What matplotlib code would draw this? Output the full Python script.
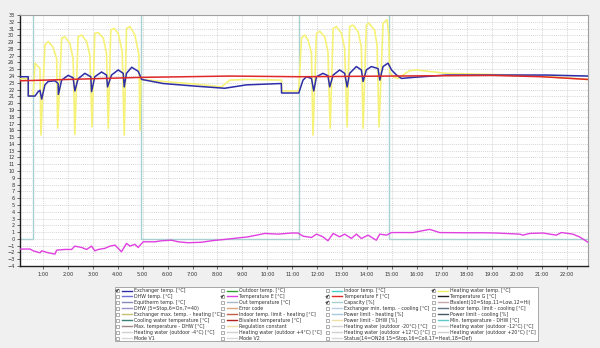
import matplotlib.pyplot as plt
import matplotlib.ticker as mticker
from matplotlib.lines import Line2D
from matplotlib.patches import Rectangle

# time axis in hours since midnight
exch_t = [0.08, 0.41, 0.41, 0.68, 0.81, 0.88, 0.95, 1.08, 1.21, 1.48, 1.61, 1.62,
          1.75, 2.01, 2.21, 2.28, 2.41, 2.68, 2.92, 2.95, 3.08, 3.35, 3.55, 3.59,
          3.75, 4.02, 4.22, 4.26, 4.35, 4.56, 4.82, 4.96, 5.82, 7.16, 8.29, 9.16,
          10.56, 10.57, 11.26, 11.43, 11.57, 11.77, 11.86, 11.97, 12.23, 12.43,
          12.50, 12.64, 12.90, 13.10, 13.20, 13.30, 13.57, 13.77, 13.84, 13.97,
          14.17, 14.44, 14.51, 14.64, 14.84, 14.98, 15.18, 15.38, 15.84, 17.18,
          18.51, 21.19, 22.86]
exch_v = [23.9, 23.9, 21.05, 21.05, 21.7, 21.9, 20.6, 22.7, 23.2, 23.3, 22.9, 21.3,
          23.4, 24.1, 23.75, 21.8, 23.6, 24.4, 23.9, 21.7, 23.9, 24.6, 24.15, 22.4,
          24.15, 24.9, 24.4, 22.4, 24.4, 25.3, 24.7, 23.5, 22.9, 22.5, 22.2, 22.7,
          22.9, 21.5, 21.5, 23.4, 23.9, 23.65, 21.8, 23.9, 24.4, 24.05,
          22.4, 24.15, 24.9, 24.4, 22.4, 24.4, 25.4, 24.9, 23.2, 24.9,
          25.4, 25.1, 23.4, 25.4, 25.9, 24.9, 24.15, 23.65, 23.8, 24.15,
          24.15, 24.15, 24.0]

heat_t = [0.08, 0.41, 0.42, 0.61, 0.68, 0.75, 0.84, 0.88, 0.92, 1.08, 1.21, 1.40,
          1.55, 1.59, 1.75, 1.88, 2.08, 2.21, 2.28, 2.41, 2.55, 2.75, 2.88, 2.97,
          3.08, 3.22, 3.42, 3.55, 3.62, 3.72, 3.85, 4.02, 4.18, 4.26, 4.35, 4.49,
          4.69, 4.85, 4.89, 4.93, 4.96, 5.82, 7.16, 8.16, 8.49, 9.16, 10.57, 10.58,
          11.26, 11.37, 11.50, 11.63, 11.77, 11.83, 11.97, 12.10, 12.30, 12.43,
          12.52, 12.64, 12.77, 12.97, 13.10, 13.20, 13.30, 13.44, 13.64, 13.77,
          13.84, 13.97, 14.07, 14.30, 14.40, 14.48, 14.64, 14.80, 14.87, 14.91,
          15.04, 15.24, 15.71, 15.98, 17.18, 19.84, 21.32, 22.86]
heat_v = [23.6, 23.6, 21.1, 21.1, 25.9, 25.6, 25.3, 25.1, 15.3, 28.6, 29.1, 28.3,
          26.6, 16.3, 29.6, 29.8, 28.8, 26.6, 15.4, 29.8, 30.05, 29.1, 27.1, 16.5,
          30.3, 30.4, 29.6, 27.4, 16.3, 30.8, 31.0, 30.3, 27.6, 15.3, 31.0, 31.3,
          30.05, 27.1, 16.0, 23.9, 23.5, 23.2, 22.8, 22.4, 23.4, 23.5, 23.4, 21.8,
          21.8, 29.6, 30.05, 29.3, 27.4, 15.3, 30.3, 30.6, 29.8, 27.6,
          16.3, 31.0, 31.3, 30.3, 28.1, 16.5, 31.3, 31.5, 30.5, 28.3,
          16.3, 31.5, 31.8, 30.8, 28.6, 16.5, 31.8, 32.3, 30.05, 24.6,
          23.9, 23.65, 24.8, 24.9, 24.4, 24.15, 23.9, 23.5]

temp_f_t = [0.08, 4.9, 8.5, 11.3, 15.0, 19.0, 21.0, 22.86]
temp_f_v = [23.3, 23.8, 24.0, 23.9, 24.0, 24.1, 23.9, 23.5]

temp_e_t = [0.08, 0.48, 0.61, 0.88, 0.95, 1.21, 1.48, 1.55, 1.88, 2.15, 2.28, 2.55,
            2.75, 2.95, 3.08, 3.22, 3.48, 3.69, 3.89, 4.15, 4.35, 4.49, 4.69, 4.82,
            5.02, 5.49, 5.76, 6.16, 6.42, 6.82, 7.36, 7.76, 8.29, 9.23, 9.90, 10.43,
            10.97, 11.23, 11.43, 11.77, 11.97, 12.23, 12.43, 12.64, 12.90, 13.10,
            13.37, 13.57, 13.77, 14.04, 14.37, 14.51, 14.78, 14.98, 15.84, 16.51,
            16.91, 17.85, 18.65, 19.18, 20.12, 20.25, 20.52, 21.05, 21.59, 21.79,
            22.25, 22.52, 22.86]
temp_e_v = [-1.5, -1.5, -1.76, -2.05, -1.76, -2.05, -2.25, -1.66, -1.56, -1.56,
            -1.07, -1.27, -1.56, -1.07, -1.76, -1.56, -1.4, -1.07, -0.92, -1.9,
            -0.67, -1.07, -0.8, -1.27, -0.43, -0.43, -0.28, -0.2, -0.43, -0.57,
            -0.5, -0.28, -0.08, 0.3, 0.8, 0.7, 0.86, 0.86, 0.4, 0.2, 0.7, 0.3,
            -0.28, 0.8, 0.3, 0.7, 0.06, 0.7, 0.06, 0.55, -0.2, 0.7, 0.55, 0.93,
            0.93, 1.4, 0.93, 0.9, 0.9, 0.86, 0.7, 0.55, 0.8, 0.86, 0.55, 0.93,
            0.7, 0.3, -0.5]

capacity_t = [0.08, 0.60, 4.93, 11.26, 14.88, 22.86]
capacity_v = [0, 100, 0, 100, 0, 0]

hour_ticks = list(range(1, 23))
hour_labels = [f"{h}:00" for h in hour_ticks]

legend_names = [
    ["Exchanger temp. [°C]", "DHW temp. [°C]", "Equitherm temp. [°C]",
     "DHW (5=Stop,6=On,7=40)", "Exchanger max. temp. - heating [°C]",
     "Cooling water temperature [°C]", "Max. temperature - DHW [°C]",
     "Heating water (outdoor -4°C) [°C]", "Mode V1"],
    ["Outdoor temp. [°C]", "Temperature E [°C]", "Out temperature [°C]",
     "Error code", "Indoor temp. limit - heating [°C]", "Bivalent temperature [°C]",
     "Regulation constant", "Heating water (outdoor +4°C) [°C]", "Mode V2"],
    ["Indoor temp. [°C]", "Temperature F [°C]", "Capacity [%]",
     "Exchanger min. temp. - cooling [°C]", "Power limit - heating [%]",
     "Power limit - DHW [%]", "Heating water (outdoor -20°C) [°C]",
     "Heating water (outdoor +12°C) [°C]",
     "Status(14=ON2d 15=Stop,16=Coll,17=Heat,18=Def)"],
    ["Heating water temp. [°C]", "Temperature G [°C]",
     "Bivalent(10=Stop,11=Low,12=Hi)", "Indoor temp. limit - cooling [°C]",
     "Power limit - cooling [%]", "Min. temperature - DHW [°C]",
     "Heating water (outdoor -12°C) [°C]", "Heating water (outdoor +20°C) [°C]"],
]
legend_colors = [
    ["#2e2ea8", "#7070d8", "#8888b8", "#9a90c8", "#c8c070", "#3c8078",
     "#a08888", "#d0d0d0", "#d8d8d8"],
    ["#30a030", "#e040e0", "#a8b8c8", "#d8a880", "#c06048", "#b02020",
     "#f0e0a8", "#d0d0d0", "#d8d8d8"],
    ["#40d0d0", "#e02828", "#a8d0d0", "#b8d0e8", "#a8c8e0", "#f0e0a8",
     "#d0d0d0", "#d0d0d0", "#d8d8d8"],
    ["#f0f060", "#202020", "#c8a8a8", "#607080", "#485868", "#60c8c8",
     "#d0d0d0", "#d0d0d0"],
]
legend_checked = [
    [True] + [False] * 8,
    [False, True] + [False] * 7,
    [False, True, True] + [False] * 6,
    [True] + [False] * 7,
]

W, H = 600, 348
fig = plt.figure(figsize=(W / 100, H / 100), dpi=100, facecolor="#f0f0f0")
ax = fig.add_axes([20 / W, 1 - 266 / H, 568 / W, 251 / H])
ax.set_facecolor("white")

ax.step(capacity_t, capacity_v, where="post", color="#a8d0d0", lw=1.0, zorder=2)
ax.plot(temp_e_t, temp_e_v, color="#e040e0", lw=1.0, zorder=3)
ax.plot(heat_t, heat_v, color="#f6f278", lw=1.2, zorder=4)
ax.plot(exch_t, exch_v, color="#2e2ea8", lw=1.1, zorder=5)
ax.plot(temp_f_t, temp_f_v, color="#e02828", lw=1.1, zorder=6)

ax.set_xlim(0.08, 22.86)
ax.set_ylim(-4, 33)
ax.set_xticks(hour_ticks)
ax.set_xticklabels(hour_labels)
ax.yaxis.set_major_locator(mticker.MultipleLocator(1))
ax.tick_params(axis="both", labelsize=3.6, length=2, width=0.5, pad=2,
               colors="#303030")
ax.grid(True, color="#c8c8c8", lw=0.5, linestyle=(0, (1.5, 1.5)))
for side in ("left", "bottom"):
    ax.spines[side].set_color("#202020")
    ax.spines[side].set_linewidth(1.0)
for side in ("top", "right"):
    ax.spines[side].set_color("#a0a0a0")
    ax.spines[side].set_linewidth(0.8)

# legend panel with check boxes
fig.patches.append(Rectangle((115 / W, 1 - 341 / H), 423 / W, 54 / H,
                             transform=fig.transFigure, facecolor="white",
                             edgecolor="#9a9a9a", lw=0.6, zorder=1))
col_x = [117, 222, 327, 433]
row_y0, row_dy = 290.5, 5.95
for ci, (names, colors, checks) in enumerate(zip(legend_names, legend_colors,
                                                 legend_checked)):
    x0 = col_x[ci]
    for ri, (name, col, chk) in enumerate(zip(names, colors, checks)):
        y = 1 - (row_y0 + ri * row_dy) / H
        fig.patches.append(Rectangle(((x0 - 1.5) / W, y - 1.6 / H), 3.2 / W, 3.2 / H,
                                     transform=fig.transFigure, facecolor="white",
                                     edgecolor="#707070", lw=0.4, zorder=2))
        if chk:
            fig.lines.append(Line2D([(x0 - 1) / W, (x0) / W, (x0 + 1.3) / W],
                                    [y, y - 1.1 / H, y + 1.3 / H],
                                    transform=fig.transFigure, color="#202020",
                                    lw=0.6, zorder=3))
        fig.lines.append(Line2D([(x0 + 5) / W, (x0 + 15) / W], [y, y],
                                transform=fig.transFigure, color=col, lw=1.0,
                                zorder=3))
        fig.text((x0 + 17) / W, y, name, fontsize=3.4, color="#303030",
                 va="center", ha="left")

fig.savefig("out.png", dpi=100, facecolor=fig.get_facecolor())
